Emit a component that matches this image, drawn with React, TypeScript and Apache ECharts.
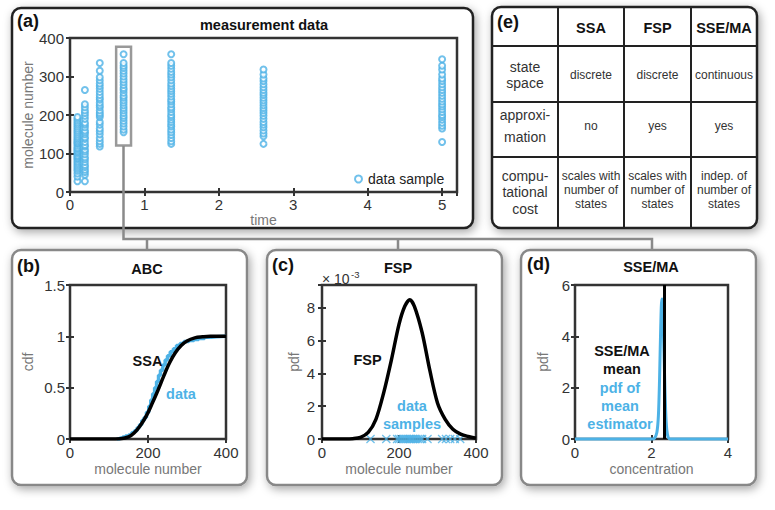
import React, { useEffect, useRef } from 'react';
import * as echarts from 'echarts';

const FONT = '"Liberation Sans", Arial, Helvetica, sans-serif';
const BLUE = '#4DB2E6';
const DARK = '#333';

// ---- panel (a) measurement data ----
const sampleTimes = [0.1, 0.2, 0.4, 0.72, 1.36, 2.6, 5.0];
const samplesT1 = [28, 40, 48, 55, 60, 65, 70, 75, 80, 85, 88, 92, 95, 100, 104, 108, 112, 115, 120, 125, 128, 132, 136, 140, 145, 150, 155, 160, 165, 170, 175, 180, 185, 190, 195];
const samplesT2 = [28, 45, 52, 58, 65, 70, 78, 85, 90, 98, 105, 110, 118, 122, 130, 138, 142, 150, 155, 160, 168, 175, 180, 190, 198, 205, 212, 220, 228, 265];
const samplesT3 = [118, 125, 132, 140, 150, 158, 165, 175, 182, 195, 200, 205, 212, 220, 225, 232, 240, 245, 252, 260, 268, 275, 282, 290, 298, 315, 335];
const samplesT4 = [155, 162, 170, 178, 185, 192, 198, 205, 212, 218, 225, 232, 238, 245, 250, 258, 265, 270, 278, 285, 292, 300, 308, 315, 322, 328, 335, 358];
const samplesT5 = [125, 132, 140, 148, 155, 162, 170, 175, 182, 188, 195, 200, 208, 215, 220, 228, 235, 240, 248, 255, 262, 268, 275, 282, 290, 298, 305, 312, 320, 328, 335, 358];
const samplesT6 = [125, 145, 152, 160, 168, 175, 182, 190, 198, 205, 212, 218, 225, 232, 238, 245, 252, 258, 265, 272, 280, 288, 295, 305, 318];
const samplesT7 = [130, 165, 172, 180, 188, 195, 200, 208, 215, 222, 228, 235, 242, 250, 258, 265, 272, 280, 288, 295, 305, 318, 328, 345];
const sampleColumns = [samplesT1, samplesT2, samplesT3, samplesT4, samplesT5, samplesT6, samplesT7];

// ---- panel (b) ABC ----
const ssaX = [0, 100, 130, 150, 165, 180, 195, 210, 225, 240, 255, 270, 285, 300, 320, 340, 360, 400];
const ssaCdf = [0, 0, 0.003, 0.02, 0.06, 0.13, 0.22, 0.34, 0.47, 0.61, 0.74, 0.84, 0.91, 0.955, 0.985, 0.995, 1, 1];
const dataCdfX = [120, 128, 135, 142, 150, 158, 165, 172, 178, 184, 190, 196, 202, 207, 212, 217, 222, 227, 232, 238, 244, 250, 257, 265, 273, 282, 292, 305, 318, 330, 345, 362, 375, 400];
const dataCdfY = [0, 0.01, 0.02, 0.03, 0.04, 0.06, 0.08, 0.11, 0.14, 0.18, 0.21, 0.26, 0.32, 0.38, 0.44, 0.5, 0.56, 0.62, 0.67, 0.72, 0.77, 0.81, 0.85, 0.88, 0.91, 0.93, 0.95, 0.96, 0.97, 0.98, 0.99, 0.995, 1, 1];

// ---- panel (c) FSP ----
const fspX = [0, 60, 80, 100, 120, 140, 160, 180, 200, 215, 228, 240, 260, 280, 300, 320, 340, 360, 380, 400];
const fspPdf = [0, 0, 0.02, 0.1, 0.4, 1.2, 2.8, 4.8, 7.0, 8.1, 8.5, 8.1, 6.5, 4.2, 2.2, 1.2, 0.6, 0.3, 0.15, 0.05];
const fspSamples = [126, 167, 195, 200, 205, 210, 215, 220, 225, 228, 232, 236, 240, 245, 250, 255, 260, 274, 312, 322, 333, 345, 359];

// ---- panel (d) SSE/MA ----
const estX = [0, 2.0, 2.08, 2.14, 2.18, 2.21, 2.24, 2.27, 2.29, 2.31, 2.34, 2.37, 2.4, 2.44, 2.5, 4];
const estPdf = [0, 0, 0.03, 0.25, 0.9, 2.3, 4.3, 5.45, 5.3, 4.3, 2.6, 1.1, 0.35, 0.05, 0, 0];
const meanConcentration = 2.34;

// ---- panel (e) table ----
const tableHeaders = ['SSA', 'FSP', 'SSE/MA'];
const rowHeaders = ['state\nspace', 'approxi-\nmation', 'compu-\ntational\ncost'];
const tableCells = [
  ['discrete', 'discrete', 'continuous'],
  ['no', 'yes', 'yes'],
  ['scales with\nnumber of\nstates', 'scales with\nnumber of\nstates', 'indep. of\nnumber of\nstates'],
];

const grids = [
  { left: 70, top: 38, width: 387, height: 154 },
  { left: 70, top: 285, width: 156, height: 154 },
  { left: 322, top: 285, width: 154, height: 154 },
  { left: 575, top: 285, width: 153, height: 154 },
];

function fmt(interval: number) {
  return (v: number) => {
    const r = v / interval;
    return Math.abs(r - Math.round(r)) < 1e-6 ? String(+v.toFixed(6)) : '';
  };
}

function xAxes(g: number, min: number, max: number, interval: number, name: string, nameGap: number, margin: number) {
  const common = {
    type: 'value', gridIndex: g, min, max, interval,
    axisLine: { show: false },
    axisTick: { inside: true, length: 4, lineStyle: { color: DARK, width: 2 } },
    splitLine: { show: false },
  };
  return [
    {
      ...common, position: 'bottom', name, nameLocation: 'middle', nameGap,
      nameTextStyle: { color: '#777', fontSize: 14, fontFamily: FONT },
      axisLabel: { color: DARK, fontSize: 15, fontFamily: FONT, margin, formatter: fmt(interval) },
    },
    { ...common, position: 'top', axisLabel: { show: false } },
  ];
}

function yAxes(g: number, min: number, max: number, interval: number, name: string, nameGap: number, margin: number) {
  const common = {
    type: 'value', gridIndex: g, min, max, interval,
    axisLine: { show: false },
    axisTick: { inside: true, length: 4, lineStyle: { color: DARK, width: 2 } },
    splitLine: { show: false },
  };
  return [
    {
      ...common, position: 'left', name, nameLocation: 'middle', nameGap,
      nameTextStyle: { color: '#777', fontSize: 14, fontFamily: FONT },
      axisLabel: { color: DARK, fontSize: 15, fontFamily: FONT, margin, formatter: fmt(interval) },
    },
    { ...common, position: 'right', axisLabel: { show: false } },
  ];
}

function txt(text: string, x: number, y: number, o: any = {}) {
  return {
    type: 'text', z: 50,
    style: {
      text, x, y,
      fontFamily: FONT, fontSize: o.fontSize ?? 14, fontWeight: o.fontWeight ?? 'normal',
      fill: o.fill ?? '#111', align: o.align ?? 'center', verticalAlign: o.verticalAlign ?? 'middle',
      lineHeight: o.lineHeight,
    },
  };
}

function box(x: number, y: number, w: number, h: number, stroke: string) {
  return {
    type: 'rect', z: -10,
    shape: { x, y, width: w, height: h, r: 9 },
    style: {
      fill: '#fff', stroke, lineWidth: 2.5,
      shadowBlur: 10, shadowColor: 'rgba(0,0,0,0.35)', shadowOffsetX: 2, shadowOffsetY: 3,
    },
  };
}

function line(x1: number, y1: number, x2: number, y2: number, stroke: string, lineWidth: number, z = 20) {
  return { type: 'line', z, shape: { x1, y1, x2, y2 }, style: { stroke, lineWidth } };
}

export default function App() {
  const ref = useRef<HTMLDivElement>(null);
  useEffect(() => {
    if (!ref.current) return;
    const chart = echarts.init(ref.current, undefined, { renderer: 'svg' });

    const scatterData: number[][] = [];
    sampleTimes.forEach((t, i) => sampleColumns[i].forEach((v) => scatterData.push([t, v])));

    const tableX = [492, 558, 624, 691, 757];
    const tableY = [7, 46, 102, 157, 228];
    const colCenters = [525, 591, 657.5, 724];
    const rowCenters = [75, 126, 192];
    const rowLH = [16, 22, 16.5];

    const graphic: any[] = [
      box(12, 8, 461, 220, '#222'),
      box(492, 7, 265, 221, '#222'),
      box(12, 250, 235, 235, '#888'),
      box(267, 250, 235, 235, '#888'),
      box(521, 250, 235, 235, '#888'),
      // connectors
      { type: 'polyline', z: 20, shape: { points: [[123.5, 146], [123.5, 239], [652, 239], [652, 250]] }, style: { stroke: '#8a8a8a', lineWidth: 2.5, fill: null } },
      line(147, 239, 147, 250, '#8a8a8a', 2.5),
      line(398, 239, 398, 250, '#8a8a8a', 2.5),
      // titles
      txt('(a)', 17, 21, { fontWeight: 'bold', fontSize: 18, align: 'left' }),
      txt('measurement data', 264, 25, { fontWeight: 'bold', fontSize: 14.5 }),
      txt('(b)', 17, 266, { fontWeight: 'bold', fontSize: 18, align: 'left' }),
      txt('ABC', 147, 269, { fontWeight: 'bold', fontSize: 14.5 }),
      txt('(c)', 272, 265, { fontWeight: 'bold', fontSize: 18, align: 'left' }),
      txt('FSP', 398, 268, { fontWeight: 'bold', fontSize: 14.5 }),
      txt('× 10', 322, 279, { fontSize: 14, fill: DARK, align: 'left' }),
      txt('-3', 351, 274, { fontSize: 9.5, fill: DARK, align: 'left' }),
      txt('(d)', 527, 264, { fontWeight: 'bold', fontSize: 18, align: 'left' }),
      txt('SSE/MA', 651, 267, { fontWeight: 'bold', fontSize: 14.5 }),
      // in-plot labels
      txt('SSA', 147.5, 361, { fontWeight: 'bold', fontSize: 14.5 }),
      txt('data', 181, 394, { fontWeight: 'bold', fontSize: 14.5, fill: BLUE }),
      txt('FSP', 367.5, 360, { fontWeight: 'bold', fontSize: 14.5 }),
      txt('data\nsamples', 412, 415, { fontWeight: 'bold', fontSize: 14.5, fill: BLUE, lineHeight: 17.5 }),
      txt('SSE/MA\nmean', 622, 360, { fontWeight: 'bold', fontSize: 14.5, lineHeight: 17.5 }),
      txt('pdf of\nmean\nestimator', 620, 406, { fontWeight: 'bold', fontSize: 14.5, fill: BLUE, lineHeight: 18 }),
      // table
      txt('(e)', 497, 22, { fontWeight: 'bold', fontSize: 18, align: 'left' }),
    ];
    tableX.slice(1, 4).forEach((x) => graphic.push(line(x, tableY[0], x, tableY[4], '#222', 2)));
    tableY.slice(1, 4).forEach((y) => graphic.push(line(tableX[0], y, tableX[4], y, '#222', 2)));
    tableHeaders.forEach((h, j) => graphic.push(txt(h, colCenters[j + 1], 28, { fontWeight: 'bold', fontSize: 14.5 })));
    rowHeaders.forEach((h, i) => graphic.push(txt(h, colCenters[0], rowCenters[i], { fontSize: 14, fill: DARK, lineHeight: rowLH[i] })));
    tableCells.forEach((row, i) =>
      row.forEach((c, j) => graphic.push(txt(c, colCenters[j + 1], i === 2 ? 190 : rowCenters[i], { fontSize: 12, fill: DARK, lineHeight: 14 })))
    );

    const xAxis = [
      ...xAxes(0, 0, 5.2, 1, 'time', 11, 5),
      ...xAxes(1, 0, 400, 200, 'molecule number', 23, 6),
      ...xAxes(2, 0, 400, 200, 'molecule number', 23, 6),
      ...xAxes(3, 0, 4, 2, 'concentration', 23, 6),
    ];
    const yAxis = [
      ...yAxes(0, 0, 400, 100, 'molecule number', 34, 6),
      ...yAxes(1, 0, 1.5, 0.5, 'cdf', 35, 5),
      ...yAxes(2, 0, 9.4, 2, 'pdf', 21, 7),
      ...yAxes(3, 0, 6, 2, 'pdf', 25, 5),
    ];

    const X = 'path://M1,0 L5,4 L9,0 L10,1 L6,5 L10,9 L9,10 L5,6 L1,10 L0,9 L4,5 L0,1 Z';

    chart.setOption({
      animation: false,
      backgroundColor: '#fff',
      textStyle: { fontFamily: FONT },
      grid: grids.map((g) => ({ ...g, show: true, borderColor: DARK, borderWidth: 2.5, backgroundColor: 'rgba(0,0,0,0)' })),
      xAxis,
      yAxis,
      legend: {
        left: 349, top: 167, itemWidth: 7, itemHeight: 7, itemGap: 0,
        textStyle: { fontSize: 14, color: '#222', fontFamily: FONT, padding: [0, 0, 0, 1] },
        itemStyle: { borderWidth: 1.6 },
        data: ['data sample'],
      },
      graphic,
      series: [
        {
          name: 'data sample', type: 'scatter', xAxisIndex: 0, yAxisIndex: 0,
          symbol: 'emptyCircle', symbolSize: 6,
          itemStyle: { color: BLUE, borderColor: BLUE, borderWidth: 2.2 },
          data: scatterData,
          markArea: {
            silent: true,
            itemStyle: { color: 'rgba(0,0,0,0)', borderColor: '#999', borderWidth: 2.5 },
            data: [[{ coord: [0.62, 377] }, { coord: [0.82, 121] }]],
          },
        },
        {
          name: 'data', type: 'line', xAxisIndex: 2, yAxisIndex: 2, step: 'end', showSymbol: false,
          lineStyle: { color: BLUE, width: 3.5 },
          data: dataCdfX.map((x, i) => [x, dataCdfY[i]]),
        },
        {
          name: 'SSA', type: 'line', xAxisIndex: 2, yAxisIndex: 2, smooth: 0.4, showSymbol: false,
          lineStyle: { color: '#000', width: 3.5 },
          data: ssaX.map((x, i) => [x, ssaCdf[i]]),
        },
        {
          name: 'FSP', type: 'line', xAxisIndex: 4, yAxisIndex: 4, smooth: 0.3, showSymbol: false,
          lineStyle: { color: '#000', width: 3.5 },
          data: fspX.map((x, i) => [x, fspPdf[i]]),
        },
        {
          name: 'data samples', type: 'scatter', xAxisIndex: 4, yAxisIndex: 4, symbol: X, symbolSize: 9,
          itemStyle: { color: BLUE }, clip: false,
          data: fspSamples.map((x) => [x, 0]),
        },
        {
          name: 'pdf of mean estimator', type: 'line', xAxisIndex: 6, yAxisIndex: 6, smooth: 0.3, showSymbol: false,
          clip: false, lineStyle: { color: BLUE, width: 3 },
          data: estX.map((x, i) => [x, estPdf[i]]),
        },
        {
          name: 'SSE/MA mean', type: 'line', xAxisIndex: 6, yAxisIndex: 6, showSymbol: false,
          lineStyle: { color: '#000', width: 3 },
          data: [[meanConcentration, 0], [meanConcentration, 6]],
        },
      ],
    });
    return () => chart.dispose();
  }, []);
  return <div ref={ref} style={{ position: 'fixed', left: 0, top: 0, width: 775, height: 510 }} />;
}
